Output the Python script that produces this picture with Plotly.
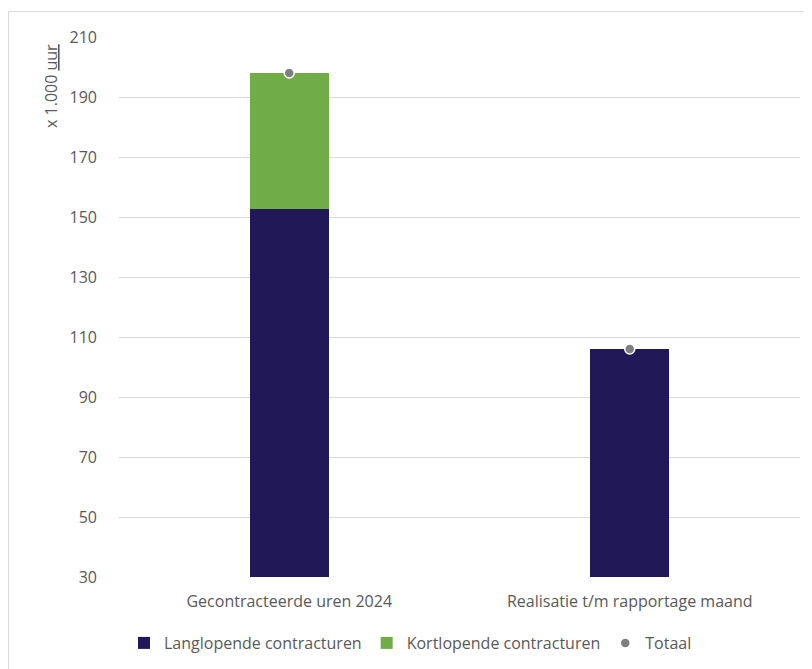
import plotly.graph_objects as go

categories = ["Gecontracteerde uren 2024", "Realisatie t/m rapportage maand"]
langlopend = [152.7, 106.0]
kortlopend = [45.3, 0.0]
totaal = [198.0, 106.0]
y_ticks = [30, 50, 70, 90, 110, 130, 150, 170, 190, 210]

FONT = "Open Sans"
GREY = "#595959"
FS = 16

# figure-pixel geometry (page has an 8px body margin)
L, T, B, R = 111, 29, 92, 12
W, H = 804, 661
PW, PH = W - L - R, H - T - B
PB = T + PH  # plot bottom in figure px

fig = go.Figure()
fig.add_trace(go.Bar(
    x=categories, y=langlopend, name="Langlopende contracturen",
    marker=dict(color="#201857", line=dict(width=0)), width=0.233,
))
fig.add_trace(go.Bar(
    x=categories, y=kortlopend, name="Kortlopende contracturen",
    marker=dict(color="#70ad47", line=dict(width=0)), width=0.233,
))
fig.add_trace(go.Scatter(
    x=categories, y=totaal, name="Totaal", mode="markers",
    marker=dict(color="#7f7f7f", size=10, line=dict(color="white", width=1.5)),
))

fig.update_layout(
    width=W, height=H,
    barmode="stack", bargap=0.767,
    paper_bgcolor="white", plot_bgcolor="white",
    margin=dict(l=L, r=R, t=T, b=B, autoexpand=False),
    font=dict(family=FONT, size=FS, color=GREY),
    showlegend=True,
    legend=dict(orientation="h", x=(116 - L) / PW, xanchor="left",
                yref="container", y=(H - 635) / H, yanchor="middle",
                font=dict(family=FONT, size=FS, color=GREY), itemwidth=30,
                traceorder="normal"),
    xaxis=dict(showgrid=False, showline=False, ticks="", ticklabelstandoff=13,
               tickfont=dict(size=FS, color=GREY)),
    yaxis=dict(range=[30, 210], tickvals=y_ticks, showgrid=True, gridcolor="#d9d9d9",
               gridwidth=1, zeroline=False, showline=False, ticks="",
               ticklabelstandoff=21, tickfont=dict(size=FS, color=GREY)),
    shapes=[dict(type="rect", xref="paper", yref="paper",
                 x0=(0.5 - L) / PW, x1=(W + 20 - L) / PW,
                 y0=(PB - (H + 20)) / PH, y1=(PB - 3.5) / PH,
                 line=dict(color="#d9d9d9", width=1), fillcolor="rgba(0,0,0,0)", layer="below")],
    annotations=[dict(text="x 1.000 <u>uur</u>", xref="paper", yref="paper",
                      x=(43 - L) / PW, y=(PB - 78) / PH, textangle=-90,
                      showarrow=False, xanchor="center", yanchor="middle",
                      font=dict(family=FONT, size=FS, color=GREY))],
)

fig.write_html("out.html")
